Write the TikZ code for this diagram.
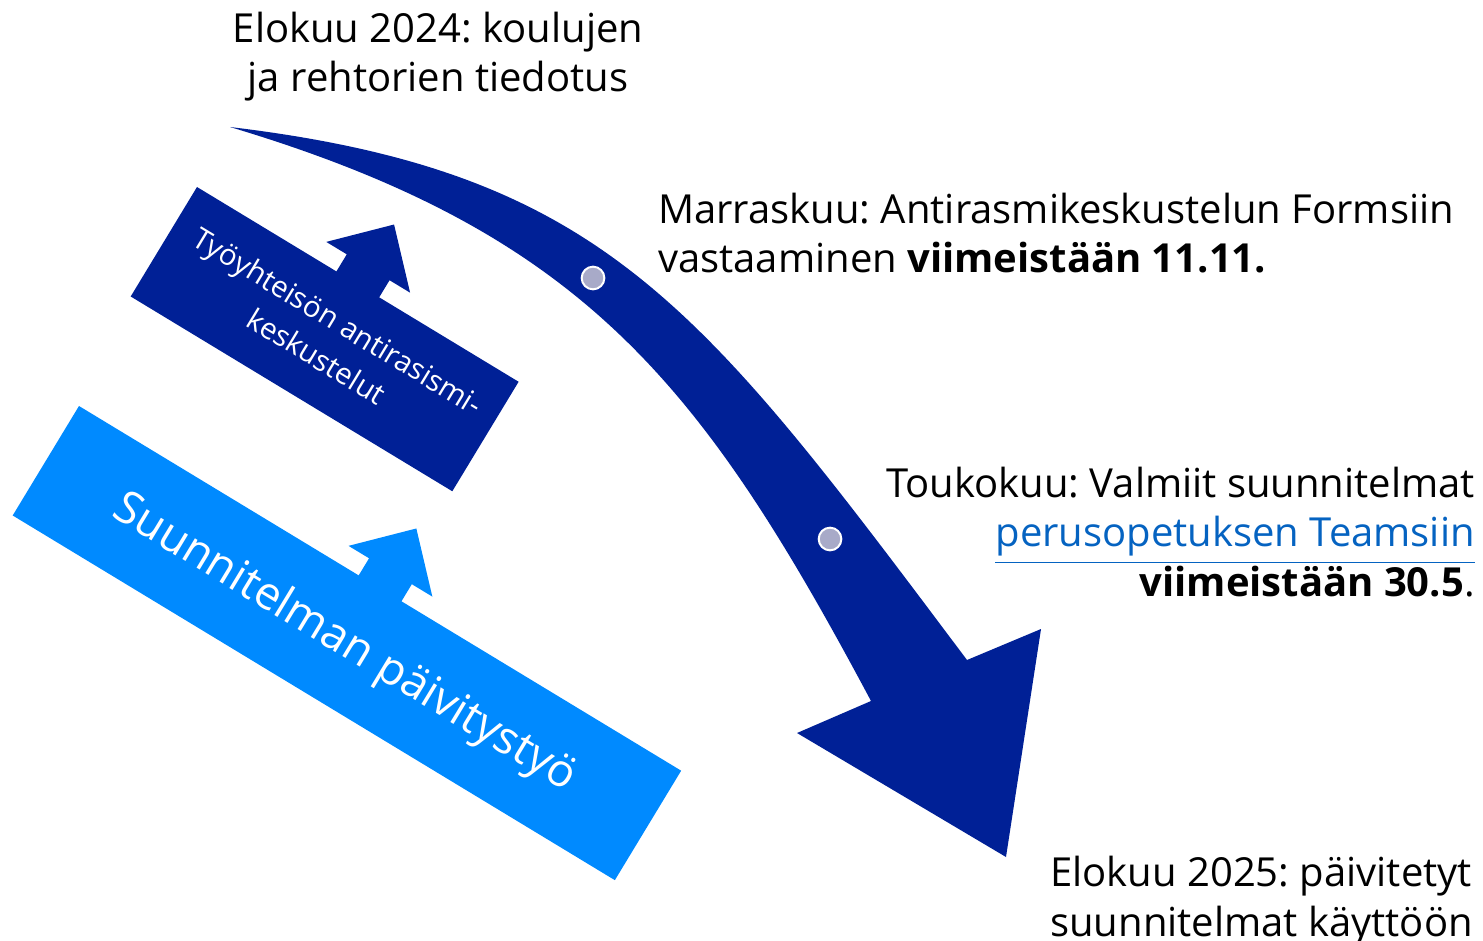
\documentclass[tikz,border=0pt]{standalone}
\usepackage{fontspec}
\setmainfont{Open Sans}
\usetikzlibrary{positioning}

\definecolor{planblue}{RGB}{0,32,150}
\definecolor{workblue}{RGB}{0,138,255}
\definecolor{markgray}{RGB}{168,170,200}
\definecolor{linkblue}{RGB}{5,99,193}
\newsavebox{\linkbox}
\newcommand{\linkline}[1]{\sbox{\linkbox}{#1}\rlap{\rule[-12pt]{\wd\linkbox}{1.1pt}}\usebox{\linkbox}}
\frenchspacing

\begin{document}
\begin{tikzpicture}[x = 0.75pt, y = -0.75pt,
		milestone/.style = {inner sep = 0pt, font = \fontsize{30}{37}\selectfont},
		boxlabel/.style = {inner sep = 0pt, white, align = center, rotate = -31.2}]
	\useasboundingbox (0, 0) rectangle (1483, 941);
	\begin{scope}[shift = {(79, 406)}, rotate = -31.2]
		\fill [workblue] (0, 0) -- (327, 0) -- (327, -20) -- (303, -20) -- (352, -70) -- (401, -20) -- (377, -20) -- (377, 0) -- (704, 0) -- (704, 128) -- (0, 128) -- cycle;
		\node [boxlabel, font = \fontsize{34}{40}\selectfont] (update) at (350, 66) {Suunnitelman päivitystyö};
	\end{scope}
	\begin{scope}[shift = {(197, 187)}, rotate = -31.2]
		\fill [planblue] (0, 0) -- (163, 0) -- (163, -20) -- (139, -20) -- (188, -70) -- (237, -20) -- (213, -20) -- (213, 0) -- (376, 0) -- (376, 128) -- (0, 128) -- cycle;
		\node [boxlabel, font = \fontsize{22}{31}\selectfont] (talk) at (190, 62) {Työyhteisön antirasismi-\\keskustelut};
	\end{scope}
	\fill [planblue] (230, 127) .. controls (605, 172) and (702, 307) .. (967, 660) -- (1041, 629) -- (1006, 857) -- (797, 733) -- (871, 701) .. controls (702, 384) and (584, 233) .. (230, 127) -- cycle;
	\draw [white, line width = 1.5pt, fill = markgray] (593, 278) circle (8.5pt);
	\draw [white, line width = 1.5pt, fill = markgray] (830, 539) circle (8.5pt);
	\node [milestone, anchor = north, align = center] (aug24) at (438, 12) {Elokuu 2024: koulujen\\ja rehtorien tiedotus};
	\node [milestone, anchor = north west, align = left] (nov) at (658, 192.5) {Marraskuu: Antirasmikeskustelun Formsiin\\vastaaminen \textbf{viimeistään 11.11.}};
	\node [milestone, anchor = north east, align = right] (may) at (1475, 467) {Toukokuu: Valmiit suunnitelmat\\\textcolor{linkblue}{\linkline{perusopetuksen Teamsiin}}\\\textbf{viimeistään 30.5}.};
	\node [milestone, anchor = north west, align = left] (aug25) at (1050, 856) {Elokuu 2025: päivitetyt\\suunnitelmat käyttöön};
\end{tikzpicture}
\end{document}
